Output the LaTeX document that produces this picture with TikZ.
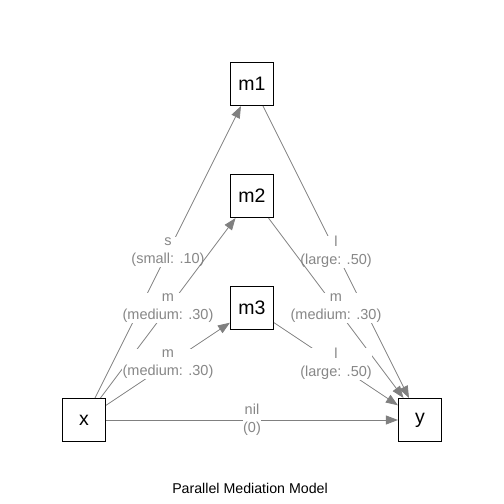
\documentclass[tikz,border=0pt]{standalone}
\usepackage{fontspec}
\setmainfont{Liberation Sans}
\usetikzlibrary{arrows.meta,calc}
\definecolor{edgegray}{RGB}{128,128,128}
\definecolor{labgray}{RGB}{135,135,135}
\begin{document}
\begin{tikzpicture}[x=1pt,y=-1pt,
  box/.style={draw=black, line width=1.1pt, minimum width=43pt, minimum height=43pt, inner sep=0pt, fill=white, font=\fontsize{19.5}{22}\selectfont},
  edge/.style={draw=edgegray, line width=0.8pt, -{Triangle[length=12pt,width=9pt,fill=edgegray]}},
  lab/.style={fill=white, text=labgray, inner sep=0.5pt, align=center, font=\fontsize{14.5}{18}\selectfont},
  ttl/.style={font=\fontsize{14.2}{16}\selectfont, text=black, inner sep=0pt}]
\path[use as bounding box] (0,0) rectangle (504,504);
\node[box] (x) at (84,420) {x};
\node[box] (y) at (420,420) {y};
\node[box] (m1) at (252,84) {m1};
\node[box] (m2) at (252,196) {m2};
\node[box] (m3) at (252,308) {m3};
\draw[edge] (x) -- (m1);
\node[lab] (l1) at ($(x)!0.5!(m1)$) {s\\(small: .10)};
\draw[edge] (x) -- (m2);
\node[lab] (l2) at ($(x)!0.5!(m2)$) {m\\(medium: .30)};
\draw[edge] (x) -- (m3);
\node[lab] (l3) at ($(x)!0.5!(m3)$) {m\\(medium: .30)};
\draw[edge] (x) -- (y);
\node[lab] (l4) at ($(x)!0.5!(y)$) {nil\\(0)};
\draw[edge] (m1) -- (y);
\node[lab] (l5) at ($(m1)!0.5!(y)$) {l\\(large: .50)};
\draw[edge] (m2) -- (y);
\node[lab] (l6) at ($(m2)!0.5!(y)$) {m\\(medium: .30)};
\draw[edge] (m3) -- (y);
\node[lab] (l7) at ($(m3)!0.5!(y)$) {l\\(large: .50)};
\node[ttl] (title) at (250,488) {Parallel Mediation Model};
\end{tikzpicture}
\end{document}
